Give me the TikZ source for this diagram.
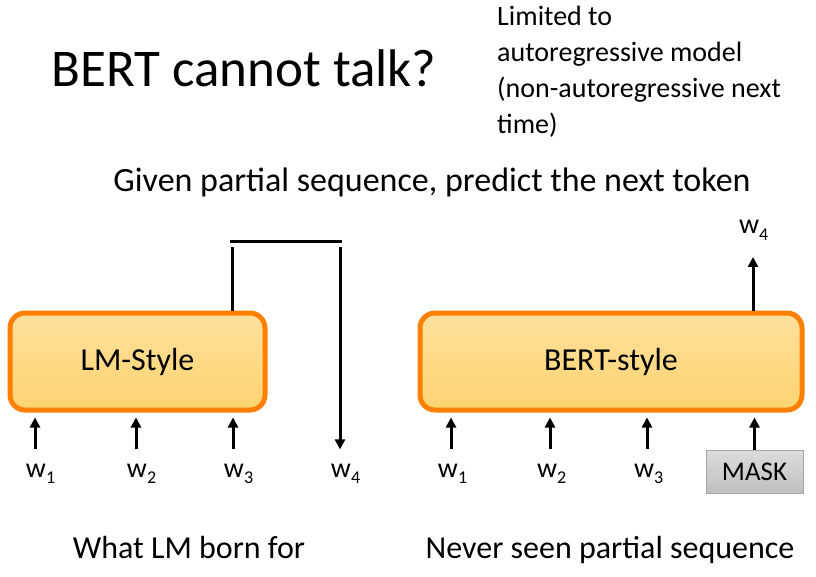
\documentclass[tikz,border=0pt]{standalone}
\usepackage{fontspec}
\setmainfont{Carlito}
\usetikzlibrary{arrows.meta,shadings}
\definecolor{boxtop}{HTML}{FEE09E}
\definecolor{boxbot}{HTML}{FED470}
\definecolor{boxline}{HTML}{FF7F00}
\definecolor{masktop}{HTML}{DCDCDC}
\definecolor{maskbot}{HTML}{BFBFBF}
\definecolor{maskline}{HTML}{A6A6A6}
\newcommand{\wlab}[1]{w\rlap{\raisebox{-6pt}{\fontsize{18}{18}\selectfont #1}}}
\tikzset{
  model/.style={draw=boxline, line width=5pt, rounded corners=15pt,
    top color=boxtop, bottom color=boxbot, font=\fontsize{32}{38}\selectfont,
    inner sep=0pt},
  wnode/.style={font=\fontsize{28}{30}\selectfont, inner sep=0pt, anchor=base},
  arr/.style={line width=3pt, -{Triangle[length=10pt,width=10pt]}},
  ln/.style={line width=3pt},
  maskbox/.style={draw=maskline, line width=1pt, top color=masktop, bottom color=maskbot,
    minimum width=97pt, minimum height=43pt, inner sep=0pt, font=\fontsize{27}{30}\selectfont},
  txt/.style={inner sep=0pt, anchor=base}
}
\begin{document}
\begin{tikzpicture}[x=1pt,y=-1pt]
\useasboundingbox (0,0) rectangle (816,577);
% texts
\node[txt, font=\fontsize{53}{60}\selectfont] (title) at (244,87) {BERT cannot talk?};
\node[inner sep=0pt, anchor=north west, align=left, font=\fontsize{28}{36}\selectfont] (note) at (497,6)
  {Limited to\\autoregressive model\\(non-autoregressive next\\time)};
\node[txt, font=\fontsize{34}{40}\selectfont] (given) at (432,192) {Given partial sequence, predict the next token};
\node[txt, font=\fontsize{32}{40}\selectfont] (born) at (189,558) {What LM born for};
\node[txt, font=\fontsize{32}{40}\selectfont] (never) at (610,558) {Never seen partial sequence};
% boxes
\node[model, minimum width=255pt, minimum height=97pt] (lm) at (137.5,361.5) {LM-Style};
\node[model, minimum width=382pt, minimum height=97pt] (bert) at (611,361.5) {BERT-style};
% left labels
\node[wnode] (lw1) at (36,477) {\wlab{1}};
\node[wnode] (lw2) at (137,477) {\wlab{2}};
\node[wnode] (lw3) at (234,477) {\wlab{3}};
\node[wnode] (lw4) at (341,477) {\wlab{4}};
\foreach \n in {lw1,lw2,lw3}{
  \draw[arr, shorten <=14pt, shorten >=5pt] ([xshift=-1pt]\n.north) -- ([xshift=-1pt]\n.north |- lm.south);
}
% LM feedback
\coordinate (c1) at (232,247);
\coordinate (h1) at (230,242);
\coordinate (h2) at (342,242);
\coordinate (c2) at (340,247);
\draw[ln] (lm.north -| c1) -- (c1);
\draw[ln] (h1) -- (h2);
\draw[arr, shorten >=14pt] (c2) -- (c2 |- lw4.north);
% right labels
\node[wnode] (rw1) at (448,477) {\wlab{1}};
\node[wnode] (rw2) at (547,477) {\wlab{2}};
\node[wnode] (rw3) at (644,477) {\wlab{3}};
\node[maskbox] (mask) at (754.5,471.5) {MASK};
\foreach \n in {rw1,rw2,rw3}{
  \draw[arr, shorten <=14pt, shorten >=5pt] ([xshift=3pt]\n.north) -- ([xshift=3pt]\n.north |- bert.south);
}
\draw[arr, shorten >=5pt] (mask.north) -- (mask.north |- bert.south);
\node[wnode] (rw4) at (749,234) {\wlab{4}};
\coordinate (top4) at (753,257);
\draw[arr] (top4 |- bert.north) -- (top4);
\end{tikzpicture}
\end{document}
